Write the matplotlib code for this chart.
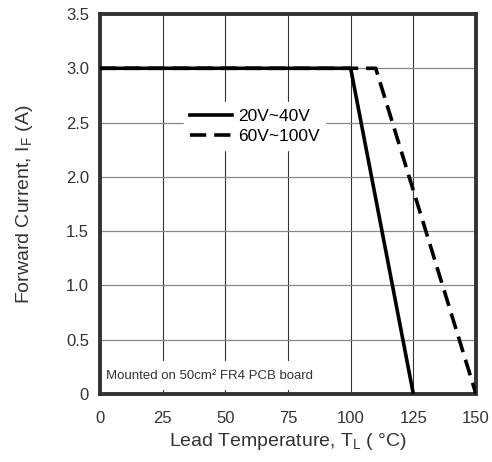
import numpy as np
import matplotlib.pyplot as plt

# derating curves
temp_low = [0, 100, 125]
curr_low = [3.0, 3.0, 0.0]
temp_high = [0, 110, 150]
curr_high = [3.0, 3.0, 0.0]

xticks = [0, 25, 50, 75, 100, 125, 150]
yticks = [0, 0.5, 1.0, 1.5, 2.0, 2.5, 3.0, 3.5]
ylabels = ['0', '0.5', '1.0', '1.5', '2.0', '2.5', '3.0', '3.5']

plt.rcParams['font.family'] = ['Liberation Sans', 'DejaVu Sans']

fig = plt.figure(figsize=(4.92, 4.62), dpi=100)
ax = fig.add_axes([100 / 492, 1 - 394 / 462, 376 / 492, 380 / 462])

for x in xticks[1:-1]:
    ax.axvline(x, color='#333333', lw=0.8, zorder=1)
for y in yticks[1:-1]:
    ax.axhline(y, color='#888888', lw=0.9, zorder=1)

ax.plot(temp_low, curr_low, color='black', lw=2.6, label='20V~40V', zorder=3)
ax.plot(temp_high, curr_high, color='black', lw=2.6, ls=(0, (4.5, 2.2)),
        label='60V~100V', zorder=3)

ax.set_xlim(0, 150)
ax.set_ylim(0, 3.5)
ax.set_xticks(xticks)
ax.set_yticks(yticks)
ax.set_yticklabels(ylabels)
ax.tick_params(length=0, labelsize=12, colors='#333333', pad=8)
ax.tick_params(axis='x', pad=12)
for s in ax.spines.values():
    s.set_linewidth(2.8)
    s.set_color('#333333')

ax.set_xlabel('Lead Temperature, T$_\\mathregular{L}$ ( °C)', fontsize=14,
              color='#333333', labelpad=4)
ax.set_ylabel('Forward Current, I$_\\mathregular{F}$ (A)', fontsize=14,
              color='#333333', labelpad=22)

leg = ax.legend(loc='upper left', bbox_to_anchor=(0.2, 0.79), frameon=True,
                fancybox=False, edgecolor='white', framealpha=1, fontsize=12.5,
                handlelength=2.4, borderpad=0.35, labelspacing=0.3, handletextpad=0.35)
leg.set_zorder(2)

ax.text(2.5, 0.17, 'Mounted on 50cm² FR4 PCB board', fontsize=9.5, color='#333333',
        va='center', ha='left', zorder=2,
        bbox=dict(facecolor='white', edgecolor='none', pad=6))

fig.savefig('out.png', dpi=100)
